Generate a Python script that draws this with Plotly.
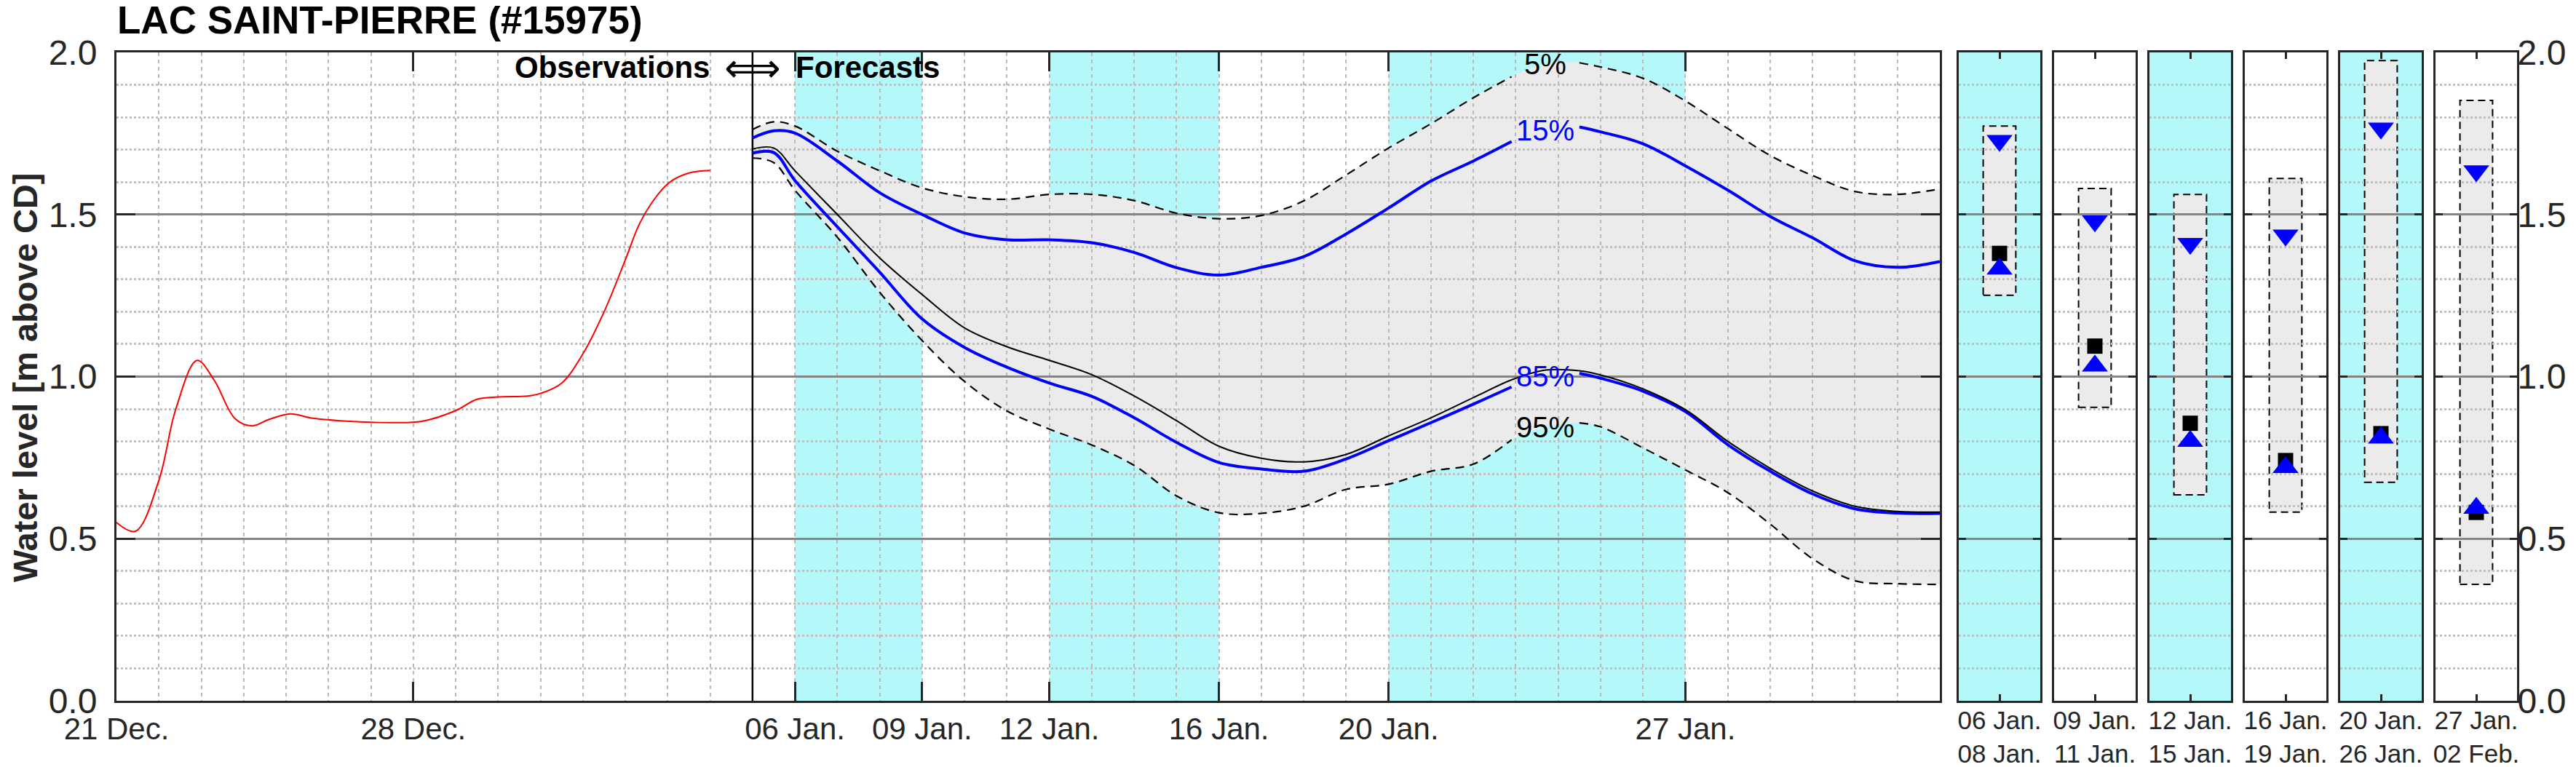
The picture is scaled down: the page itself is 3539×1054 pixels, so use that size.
import plotly.graph_objects as go

W, H = 3539, 1054
FONT = "Liberation Sans"
AX = "#262626"
CYAN = "#b4f8fa"
ENV = "#ebebeb"
BLUE = "#0000ff"

# observed water level (m above CD), days counted from 21 Dec.
obs_days = [0.0, 0.45, 1.0, 1.4, 1.9, 2.3, 2.8, 3.2, 3.6, 4.1, 4.6, 5.5, 6.5, 7.2,
            8.0, 8.5, 9.0, 9.7, 10.0, 10.5, 11.0, 11.5, 12.0, 12.33, 12.7, 13.05, 13.5, 14.0]
obs_level = [0.55, 0.523, 0.68, 0.90, 1.05, 0.99, 0.87, 0.848, 0.868, 0.885, 0.872, 0.862, 0.858, 0.862,
             0.895, 0.93, 0.937, 0.94, 0.948, 0.98, 1.07, 1.20, 1.36, 1.47, 1.55, 1.60, 1.628, 1.636]

# forecast percentiles
fc_days = [15, 15.5, 16, 17, 18, 19, 20, 21, 22, 23, 24, 25, 26, 27, 28, 29, 30, 31, 32,
           32.9, 33.7, 34.5, 35, 36, 37, 38, 39, 40, 41, 42, 43]
p05 = [1.762, 1.786, 1.773, 1.695, 1.635, 1.582, 1.555, 1.547, 1.562, 1.562, 1.543, 1.504, 1.487,
       1.497, 1.542, 1.622, 1.705, 1.78, 1.86, 1.925, 1.965, 1.968, 1.955, 1.92, 1.85, 1.765,
       1.682, 1.62, 1.571, 1.562, 1.579]
p15 = [1.736, 1.758, 1.751, 1.665, 1.567, 1.50, 1.443, 1.422, 1.422, 1.413, 1.383, 1.336, 1.313,
       1.337, 1.37, 1.44, 1.52, 1.603, 1.665, 1.725, 1.76, 1.77, 1.755, 1.718, 1.65, 1.575,
       1.494, 1.428, 1.357, 1.337, 1.355]
fc_mid = [1.702, 1.705, 1.635, 1.50, 1.366, 1.253, 1.15, 1.092, 1.05, 1.006, 0.94, 0.864, 0.785,
          0.748, 0.737, 0.76, 0.817, 0.873, 0.935, 0.99, 1.02, 1.018, 1.005, 0.962, 0.898, 0.80,
          0.717, 0.647, 0.60, 0.584, 0.582]
p85 = [1.689, 1.691, 1.605, 1.462, 1.322, 1.178, 1.09, 1.029, 0.98, 0.939, 0.873, 0.797, 0.735,
       0.715, 0.708, 0.746, 0.802, 0.858, 0.915, 0.968, 1.0, 1.01, 0.995, 0.955, 0.892, 0.79,
       0.708, 0.638, 0.592, 0.579, 0.578]
p95 = [1.674, 1.66, 1.575, 1.43, 1.26, 1.111, 0.985, 0.894, 0.838, 0.789, 0.726, 0.632, 0.58,
       0.578, 0.60, 0.652, 0.668, 0.708, 0.73, 0.805, 0.845, 0.857, 0.845, 0.78, 0.712, 0.642,
       0.545, 0.438, 0.37, 0.361, 0.359]

forecast_start = 15
shaded_periods = [(16, 19), (22, 26), (30, 37)]
label_day = 33.7

x_tickvals = [0, 7, 16, 19, 22, 26, 30, 37]
x_ticktext = ["21 Dec.", "28 Dec.", "06 Jan.", "09 Jan.", "12 Jan.", "16 Jan.", "20 Jan.", "27 Jan."]
y_tickvals = [0, 0.5, 1.0, 1.5, 2.0]
y_ticktext = ["0.0", "0.5", "1.0", "1.5", "2.0"]

# period summaries (right panels)
period_labels = ["06 Jan.<br>08 Jan.", "09 Jan.<br>11 Jan.", "12 Jan.<br>15 Jan.",
                 "16 Jan.<br>19 Jan.", "20 Jan.<br>26 Jan.", "27 Jan.<br>02 Feb."]
period_shaded = [True, False, True, False, True, False]
box_low = [1.251, 0.905, 0.635, 0.582, 0.674, 0.359]
box_high = [1.773, 1.580, 1.562, 1.611, 1.975, 1.852]
per_p15 = [1.728, 1.480, 1.410, 1.436, 1.766, 1.634]
per_p85 = [1.332, 1.033, 0.801, 0.720, 0.811, 0.594]
per_mid = [1.380, 1.094, 0.856, 0.741, 0.824, 0.581]


def gapped(vals):
    # leave room for the percentile labels
    return [None if 32.9 < d < 34.5 else v for d, v in zip(fc_days, vals)]


fig = go.Figure()

# envelope (own subplot so the grid of the main subplot is drawn over it)
fig.add_trace(go.Scatter(x=fc_days, y=p95, xaxis="x", yaxis="y", mode="lines",
                         line=dict(width=0, shape="spline"), hoverinfo="skip", showlegend=False))
fig.add_trace(go.Scatter(x=fc_days, y=p05, xaxis="x", yaxis="y", mode="lines",
                         line=dict(width=0, shape="spline"), fill="tonexty", fillcolor=ENV,
                         hoverinfo="skip", showlegend=False))

# observations / forecasts separator
fig.add_trace(go.Scatter(x=[forecast_start, forecast_start], y=[0, 2], xaxis="x2", yaxis="y2",
                         mode="lines", line=dict(color="black", width=2.5), hoverinfo="skip",
                         showlegend=False))
fig.add_trace(go.Scatter(x=obs_days, y=obs_level, xaxis="x2", yaxis="y2", mode="lines",
                         line=dict(color="#ff0000", width=2, shape="spline"), showlegend=False))
for vals in (p05, p95):
    fig.add_trace(go.Scatter(x=fc_days, y=gapped(vals), xaxis="x2", yaxis="y2", mode="lines",
                             line=dict(color="black", width=2.2, dash="12px,8px", shape="spline"),
                             showlegend=False))
for vals in (p15, p85):
    fig.add_trace(go.Scatter(x=fc_days, y=gapped(vals), xaxis="x2", yaxis="y2", mode="lines",
                             line=dict(color=BLUE, width=4, shape="spline"), showlegend=False))
fig.add_trace(go.Scatter(x=fc_days, y=fc_mid, xaxis="x2", yaxis="y2", mode="lines",
                         line=dict(color="black", width=2, shape="spline"), showlegend=False))

shapes = []
for a, b in shaded_periods:
    shapes.append(dict(type="rect", xref="x", yref="y", x0=a, x1=b, y0=0, y1=2,
                       fillcolor=CYAN, line=dict(width=0), layer="below"))

for i in range(6):
    xa, ya = f"x{i + 3}", f"y{i + 3}"
    if period_shaded[i]:
        shapes.append(dict(type="rect", xref=xa, yref=ya, x0=0, x1=1, y0=0, y1=2,
                           fillcolor=CYAN, line=dict(width=0), layer="below"))
    shapes.append(dict(type="rect", xref=xa, yref=ya, x0=0.3, x1=0.7, y0=box_low[i], y1=box_high[i],
                       fillcolor=ENV, line=dict(color="black", width=2, dash="10px,6px"),
                       layer="below"))
    fig.add_trace(go.Scatter(x=[0.5], y=[per_mid[i]], xaxis=xa, yaxis=ya, mode="markers",
                             marker=dict(symbol="square", size=21, color="black"), showlegend=False))
    fig.add_trace(go.Scatter(x=[0.5], y=[per_p15[i]], xaxis=xa, yaxis=ya, mode="markers",
                             marker=dict(symbol="triangle-down", size=31, color=BLUE), showlegend=False))
    fig.add_trace(go.Scatter(x=[0.5], y=[per_p85[i]], xaxis=xa, yaxis=ya, mode="markers",
                             marker=dict(symbol="triangle-up", size=31, color=BLUE), showlegend=False))

dom_x = [152 / W, 2657 / W]
dom_y = [(H - 955) / H, (H - 64) / H]


def y_axis(anchor, ticklen, labels=False, side="left", standoff=14):
    return dict(anchor=anchor, domain=dom_y, range=[0, 2], tickvals=y_tickvals, ticktext=y_ticktext,
                showticklabels=labels, side=side, ticks="inside", ticklen=ticklen, tickwidth=3,
                tickcolor=AX, showline=True, linecolor=AX, linewidth=3, mirror="ticks",
                showgrid=True, gridcolor="#858585", gridwidth=3, zeroline=False, automargin=False,
                tickfont=dict(size=48, color=AX, family=FONT), ticklabelstandoff=standoff,
                minor=dict(dtick=0.1, tick0=0, showgrid=True, gridcolor="#c0c0c0",
                           gridwidth=2.5, griddash="dot", ticks=""))


hidden = dict(showgrid=False, showline=False, zeroline=False, ticks="", showticklabels=False,
              automargin=False)
layout_axes = dict(
    xaxis=dict(anchor="y", domain=dom_x, range=[0, 43], **hidden),
    yaxis=dict(anchor="x", domain=dom_y, range=[0, 2], **hidden),
    xaxis2=dict(anchor="y2", domain=dom_x, range=[0, 43], tickvals=x_tickvals, ticktext=x_ticktext,
                ticks="inside", ticklen=26, tickwidth=3, tickcolor=AX, showline=True,
                linecolor=AX, linewidth=3, mirror="ticks", zeroline=False, automargin=False,
                showgrid=True, gridcolor="#bababa", gridwidth=2, griddash="5px,5px",
                tickfont=dict(size=42, color=AX, family=FONT), ticklabelstandoff=0,
                minor=dict(dtick=1, tick0=0, showgrid=True, gridcolor="#bababa", gridwidth=2,
                           griddash="5px,5px", ticks="")),
    yaxis2=y_axis("x2", 26, labels=True),
)
for i in range(6):
    left = 2683 + 131 * i
    layout_axes[f"xaxis{i + 3}"] = dict(
        anchor=f"y{i + 3}", domain=[left / W, (left + 112) / W], range=[0, 1],
        tickvals=[0.5], ticktext=[period_labels[i]], ticks="inside", ticklen=9, tickwidth=3,
        tickcolor=AX, showline=True, linecolor=AX, linewidth=3, mirror="ticks", automargin=False,
        showgrid=False, zeroline=False, tickfont=dict(size=35, color=AX, family=FONT),
        ticklabelstandoff=-6)
    layout_axes[f"yaxis{i + 3}"] = y_axis(f"x{i + 3}", 10, labels=(i == 5),
                                          side="right" if i == 5 else "left",
                                          standoff=-12 if i == 5 else 14)

k = fc_days.index(label_day)
annotations = [
    dict(text="<b>LAC SAINT-PIERRE (#15975)</b>", xref="paper", yref="paper", x=152 / W,
         y=1 - 20 / H, xanchor="left", yanchor="middle", showarrow=False, borderpad=0,
         font=dict(size=53, color="black", family=FONT)),
    dict(text="<b>Water level [m above CD]</b>", xref="paper", yref="paper", x=26 / W,
         y=1 - 511 / H, textangle=-90, xanchor="center", yanchor="middle", showarrow=False,
         borderpad=0, font=dict(size=47, color=AX, family=FONT)),
    dict(text="<b>Observations</b>", xref="x2", yref="paper", x=forecast_start, xshift=-57,
         y=1 - 84 / H, xanchor="right", yanchor="middle", showarrow=False,
         font=dict(size=42, color="black", family=FONT)),
    dict(text="⟺", xref="x2", yref="paper", x=forecast_start, y=1 - 86 / H,
         xanchor="center", yanchor="middle", showarrow=False,
         font=dict(size=54, color="black", family="DejaVu Sans")),
    dict(text="<b>Forecasts</b>", xref="x2", yref="paper", x=forecast_start, xshift=57,
         y=1 - 84 / H, xanchor="left", yanchor="middle", showarrow=False,
         font=dict(size=42, color="black", family=FONT)),
]
for text, vals, color in (("5%", p05, "black"), ("15%", p15, BLUE),
                          ("85%", p85, BLUE), ("95%", p95, "black")):
    annotations.append(dict(text=text, xref="x2", yref="y2", x=label_day, y=vals[k],
                            xanchor="center", yanchor="middle", showarrow=False,
                            font=dict(size=40, color=color, family=FONT)))

fig.update_layout(
    width=W, height=H, margin=dict(l=0, r=0, t=0, b=0, autoexpand=False),
    paper_bgcolor="white", plot_bgcolor="rgba(0,0,0,0)",
    font=dict(family=FONT, color=AX),
    shapes=shapes, annotations=annotations, showlegend=False,
    **layout_axes,
)

fig.write_html("out.html")
